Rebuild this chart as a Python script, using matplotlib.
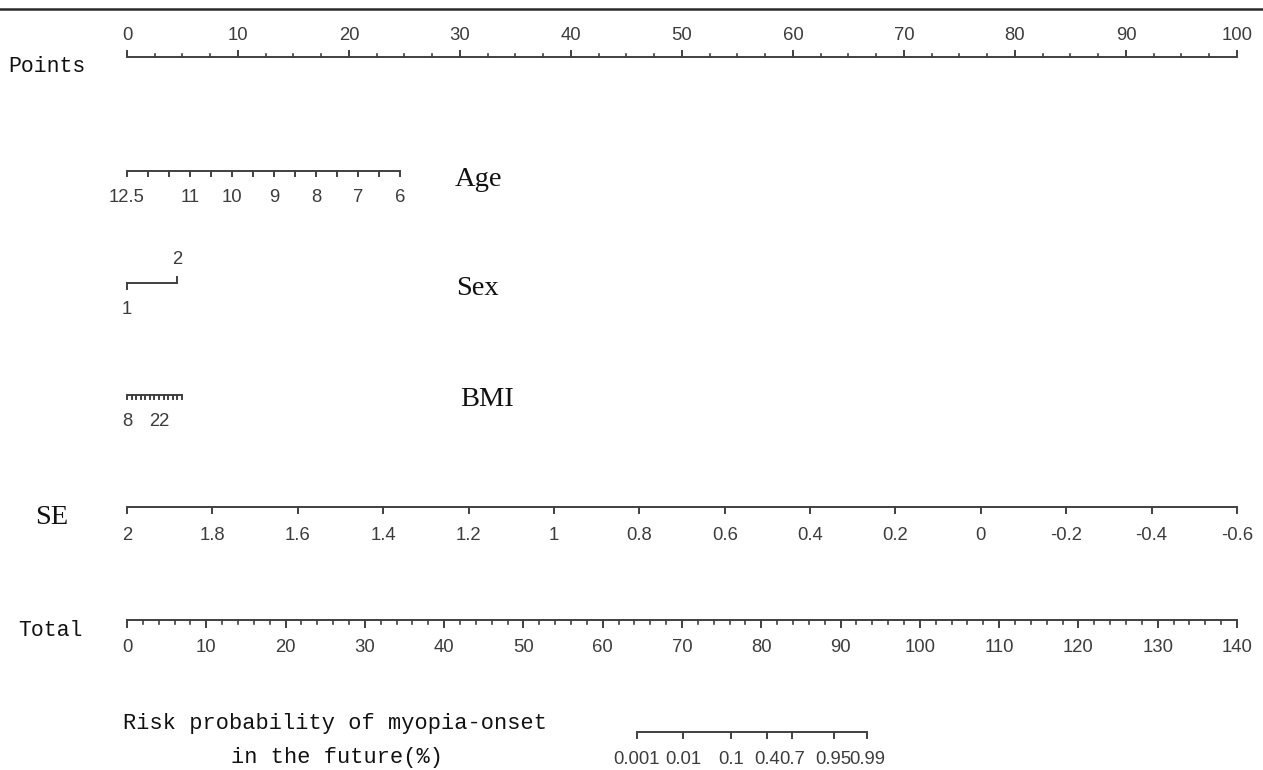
import numpy as np
import matplotlib.pyplot as plt

# values
points_ticks = [0, 10, 20, 30, 40, 50, 60, 70, 80, 90, 100]

age_ticks = [12.5, 12, 11.5, 11, 10.5, 10, 9.5, 9, 8.5, 8, 7.5, 7, 6.5, 6]
age_labels = [12.5, 11, 10, 9, 8, 7, 6]
age_range = [12.5, 6]
age_pts = [0, 24.6]

sex_levels = ['1', '2']
sex_pts = [0, 4.5]

bmi_ticks = [8, 10, 12, 14, 16, 18, 20, 22, 24, 26, 28, 30, 32]
bmi_labels = [8, 22]
bmi_range = [8, 32]
bmi_pts = [0, 4.95]

se_ticks = [2, 1.8, 1.6, 1.4, 1.2, 1, 0.8, 0.6, 0.4, 0.2, 0, -0.2, -0.4, -0.6]
se_range = [2, -0.6]
se_pts = [0, 100]

total_ticks = [0, 10, 20, 30, 40, 50, 60, 70, 80, 90, 100, 110, 120, 130, 140]
total_max = 140

risk_ticks = [0.001, 0.01, 0.1, 0.4, 0.7, 0.95, 0.99]
risk_labels = ['0.001', '0.01', '0.1', '0.4', '0.7', '0.95', '0.99']
risk_intercept = -32.41
risk_slope = 0.3966

W, H = 1263, 770
X0, PX_PER_PT = 127, 11.1
LINE = '#404040'
TICKTXT = '#3c3c3c'
TXT = '#111111'
MONO = 'Liberation Mono'
SERIF = 'Liberation Serif'
SANS = 'Liberation Sans'
TICKSIZE = 13.3


def to_points(v, rng, pts):
    v = np.asarray(v, dtype=float)
    return pts[0] + (v - rng[0]) / (rng[1] - rng[0]) * (pts[1] - pts[0])


def fmt(v):
    return ('%g' % v)


fig = plt.figure(figsize=(W / 100, H / 100), dpi=100)
ax = fig.add_axes([0, 0, 1, 1])
ax.set_xlim(-X0 / PX_PER_PT, (W - X0) / PX_PER_PT)
ax.set_ylim(H, 0)
ax.axis('off')


def ticktext(x, y, s):
    ax.text(x, y, s, ha='center', va='center', fontsize=TICKSIZE,
            family=SANS, color=TICKTXT)


def scale(y, xs, labels=None, tick=6, minor=None, minor_len=3.5, label_y=None, up=False):
    sgn = -1 if up else 1
    xs = np.asarray(xs, dtype=float)
    allx = xs if minor is None else np.concatenate([xs, np.asarray(minor, dtype=float)])
    ax.plot([allx.min(), allx.max()], [y, y], color=LINE, lw=1.4, solid_capstyle='butt')
    for x in xs:
        ax.plot([x, x], [y, y + sgn * tick], color=LINE, lw=1.4)
    if minor is not None:
        for x in minor:
            ax.plot([x, x], [y, y + sgn * minor_len], color=LINE, lw=1.2)
    if labels is not None:
        for x, s in zip(xs, labels):
            ticktext(x, label_y, s)


def label(x, y, s, family, size, ha='left', **kw):
    fig.text(x / W, 1 - y / H, s, ha=ha, va='center', family=family,
             fontsize=size, color=TXT, **kw)


# top border
ax.axhline(9, color='#2a2a2a', lw=1.8)

# Points
pt_minor = [p + d for p in points_ticks[:-1] for d in (2.5, 5, 7.5)]
scale(57, points_ticks, [str(p) for p in points_ticks], tick=6.5,
      minor=pt_minor, minor_len=3.5, label_y=35, up=True)
label(8, 67, 'Points', MONO, 15.5)

# Age
age_x = to_points(age_ticks, age_range, age_pts)
scale(171, age_x, tick=5)
for v in age_labels:
    ticktext(to_points(v, age_range, age_pts), 198, fmt(v))
label(455, 179, 'Age', SERIF, 20.5)

# Sex
ax.plot(sex_pts, [283, 283], color=LINE, lw=1.4)
ax.plot([sex_pts[0]] * 2, [283, 289], color=LINE, lw=1.4)
ax.plot([sex_pts[1]] * 2, [283, 277], color=LINE, lw=1.4)
ticktext(sex_pts[0], 309, sex_levels[0])
ticktext(sex_pts[1], 259, sex_levels[1])
label(456, 289, 'Sex', SERIF, 20.5)

# BMI
bmi_x = to_points(bmi_ticks, bmi_range, bmi_pts)
scale(395, bmi_x, tick=4)
for v in bmi_labels:
    ticktext(to_points(v, bmi_range, bmi_pts), 422, fmt(v))
label(460, 399, 'BMI', SERIF, 20.5)

# SE
se_x = to_points(se_ticks, se_range, se_pts)
scale(507, se_x, [fmt(v) for v in se_ticks], tick=6, label_y=535)
label(35, 518, 'SE', SERIF, 20.5)

# Total
tot_x = np.asarray(total_ticks, dtype=float) * 100 / total_max
tot_minor = [(t + d) * 100 / total_max for t in total_ticks[:-1] for d in (2, 4, 6, 8)]
scale(620, tot_x, [str(t) for t in total_ticks], tick=6.5, minor=tot_minor,
      minor_len=4, label_y=648)
label(18, 630, 'Total', MONO, 15.5)

# Risk
logit = np.log(np.asarray(risk_ticks) / (1 - np.asarray(risk_ticks)))
risk_tot = (logit - risk_intercept) / risk_slope
risk_x = risk_tot * 100 / total_max
scale(732, risk_x, risk_labels, tick=6, label_y=759)
label(335, 723, 'Risk probability of myopia-onset', MONO, 15.8, ha='center')
label(337, 757, 'in the future(%)', MONO, 15.8, ha='center')

fig.savefig('out.png', dpi=100)
